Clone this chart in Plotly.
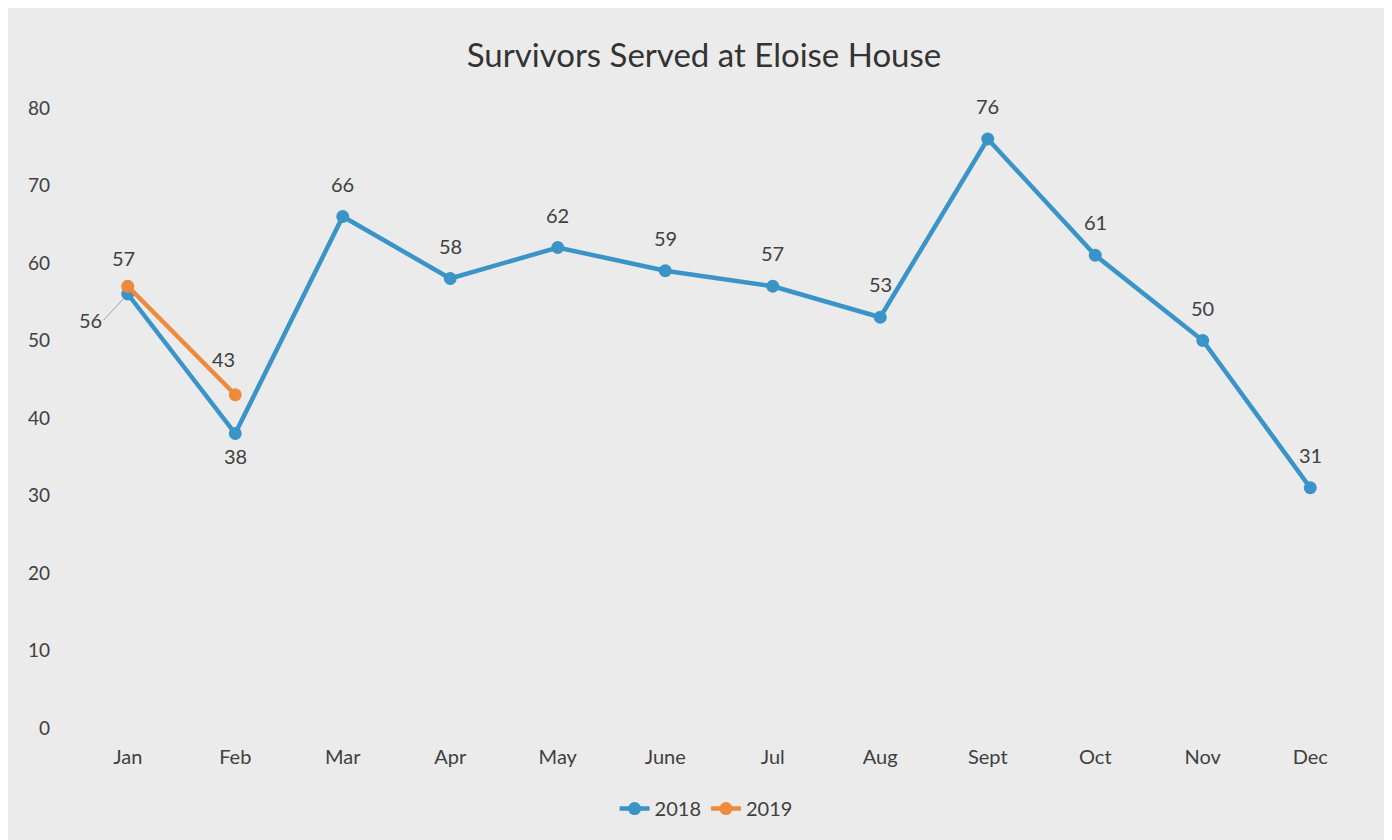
import plotly.graph_objects as go

months = ["Jan", "Feb", "Mar", "Apr", "May", "June", "Jul", "Aug", "Sept", "Oct", "Nov", "Dec"]
values_2018 = [56, 38, 66, 58, 62, 59, 57, 53, 76, 61, 50, 31]
months_2019 = ["Jan", "Feb"]
values_2019 = [57, 43]
y_ticks = [0, 10, 20, 30, 40, 50, 60, 70, 80]

BLUE = "#3a94c7"
ORANGE = "#ee8a3e"
TXT = "#404040"
FONT = "Lato, Open Sans, sans-serif"
LBL = dict(family=FONT, size=20, color=TXT)

fig = go.Figure()
fig.add_trace(go.Scatter(
    x=months, y=values_2018, name="2018", mode="lines+markers",
    line=dict(color=BLUE, width=4.5), marker=dict(color=BLUE, size=13),
    cliponaxis=False,
))
fig.add_trace(go.Scatter(
    x=months_2019, y=values_2019, name="2019", mode="lines+markers",
    line=dict(color=ORANGE, width=4.5), marker=dict(color=ORANGE, size=13),
    cliponaxis=False,
))

# data labels for 2018
for i, (m, v) in enumerate(zip(months, values_2018)):
    if i == 0:
        fig.add_annotation(
            x=m, y=v, text=str(v), showarrow=True, arrowhead=0, arrowwidth=1,
            arrowcolor="#a0a0a0", ax=-24, ay=26, xanchor="right", yanchor="middle",
            font=LBL, standoff=5,
        )
    elif i == 1:
        fig.add_annotation(x=m, y=v, text=str(v), showarrow=False,
                           yshift=-22, yanchor="middle", font=LBL)
    else:
        fig.add_annotation(x=m, y=v, text=str(v), showarrow=False,
                           yshift=33, yanchor="middle", font=LBL)

# data labels for 2019
label_shift_2019 = [(-4, 28), (-12, 36)]
for (m, v), (dx, dy) in zip(zip(months_2019, values_2019), label_shift_2019):
    fig.add_annotation(x=m, y=v, text=str(v), showarrow=False,
                       xshift=dx, yshift=dy, yanchor="middle", font=LBL)

fig.update_layout(
    width=1392, height=840,
    paper_bgcolor="#ebebeb", plot_bgcolor="#ebebeb",
    margin=dict(l=66, r=36, t=100, b=120),
    title=dict(text="Survivors Served at Eloise House", x=0.5, xanchor="center",
               y=1 - 47 / 840, yanchor="middle",
               font=dict(family=FONT, size=33, color="#333333")),
    font=dict(family=FONT, color=TXT),
    showlegend=True,
    legend=dict(orientation="h", x=0.49, xanchor="center", y=-0.13, yanchor="middle",
                font=dict(family=FONT, size=20, color=TXT), bgcolor="rgba(0,0,0,0)"),
    xaxis=dict(type="category", range=[-0.5, 11.5], showgrid=False, zeroline=False,
               showline=False, ticks="", tickfont=dict(size=20, color=TXT),
               ticklabelstandoff=15),
    yaxis=dict(range=[0, 80], tickvals=y_ticks, showgrid=False, zeroline=False,
               showline=False, ticks="", tickfont=dict(size=19, color=TXT),
               ticklabelstandoff=23),
)

fig.write_html("out.html")
